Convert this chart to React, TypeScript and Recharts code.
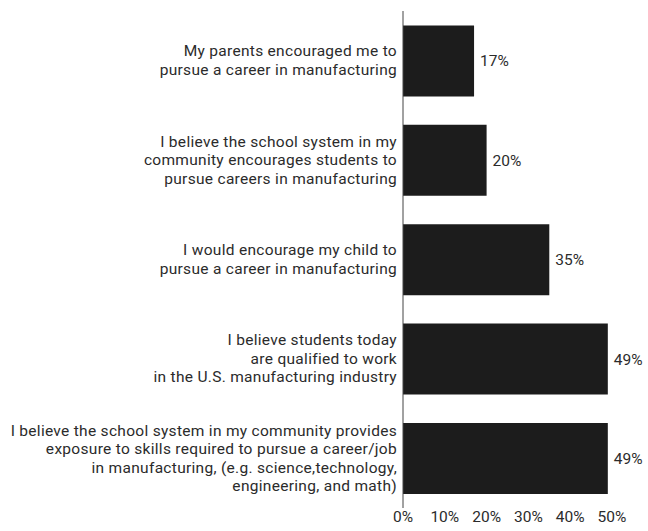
import React from "react";
import { BarChart, Bar, XAxis, YAxis, LabelList } from "recharts";

const categories: string[][] = [
  ["My parents encouraged me to", "pursue a career in manufacturing"],
  ["I believe the school system in my", "community encourages students to", "pursue careers in manufacturing"],
  ["I would encourage my child to", "pursue a career in manufacturing"],
  ["I believe students today", "are qualified to work", "in the U.S. manufacturing industry"],
  [
    "I believe the school system in my community provides",
    "exposure to skills required to pursue a career/job",
    "in manufacturing, (e.g. science,technology,",
    "engineering, and math)",
  ],
];
const values: number[] = [17, 20, 35, 49, 49];
const xTicks: number[] = [0, 10, 20, 30, 40, 50];

const data = categories.map((lines, i) => ({ key: String(i), value: values[i] }));

const FONT = "Roboto, sans-serif";
const TEXT = "#2b2b2b";
const LINE_H = 18.5;

const YTick = (props: any) => {
  const { x, y, payload } = props;
  const lines = categories[Number(payload.value)];
  const startDy = -((lines.length - 1) * LINE_H) / 2;
  return (
    <text
      x={x}
      y={y}
      textAnchor="end"
      fill={TEXT}
      fontFamily={FONT}
      fontSize={15.5}
      letterSpacing={0.3}
      dominantBaseline="central"
    >
      {lines.map((l, i) => (
        <tspan key={i} x={x} dy={i === 0 ? startDy : LINE_H}>
          {l}
        </tspan>
      ))}
    </text>
  );
};

export default function App() {
  return (
    <div style={{ position: "absolute", left: 0, top: 0, width: 648, height: 531, background: "#fff" }}>
      <BarChart
        width={648}
        height={531}
        data={data}
        layout="vertical"
        margin={{ top: 11, right: 36, bottom: 0, left: 0 }}
        barCategoryGap="14.5%"
      >
        <XAxis
          type="number"
          domain={[0, 50]}
          ticks={xTicks}
          tickFormatter={(v: number) => `${v}%`}
          axisLine={false}
          tickLine={false}
          tickSize={0}
          tickMargin={3}
          height={23}
          tick={{ fill: TEXT, fontFamily: FONT, fontSize: 15.5 }}
        />
        <YAxis
          type="category"
          dataKey="key"
          width={403}
          axisLine={{ stroke: "#444", strokeWidth: 1 }}
          tickLine={false}
          tickSize={0}
          tickMargin={6}
          tick={<YTick />}
          interval={0}
        />
        <Bar dataKey="value" fill="#1c1c1c" isAnimationActive={false}>
          <LabelList
            dataKey="value"
            position="right"
            offset={6}
            formatter={(v: number) => `${v}%`}
            fill={TEXT}
            fontFamily={FONT}
            fontSize={15.5}
          />
        </Bar>
      </BarChart>
    </div>
  );
}
